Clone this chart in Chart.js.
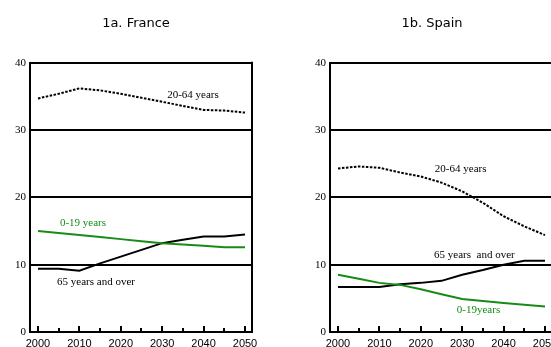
<!DOCTYPE html>
<html>
<head>
<meta charset="utf-8">
<script src="https://cdn.jsdelivr.net/npm/chart.js@4/dist/chart.umd.min.js"></script>
<style>
  html, body { margin: 0; padding: 0; background: #fff; width: 551px; height: 347px; overflow: hidden; }
  canvas { position: absolute; top: 0; }
</style>
</head>
<body>
<canvas id="c1" width="272" height="347" style="left:0px"></canvas>
<canvas id="c2" width="240" height="347" style="left:312px"></canvas>
<script>
// ---- data ----
const years = [2000, 2005, 2010, 2015, 2020, 2025, 2030, 2035, 2040, 2045, 2050];
const xTickLabels = [2000, 2010, 2020, 2030, 2040, 2050];
const yTickLabels = [0, 10, 20, 30, 40];

const franceYoung   = [15.0, 14.7, 14.4, 14.1, 13.8, 13.5, 13.2, 13.0, 12.8, 12.6, 12.6];
const franceWorking = [34.7, 35.4, 36.2, 35.9, 35.4, 34.8, 34.2, 33.6, 33.0, 32.9, 32.6];
const franceOld     = [9.4, 9.4, 9.1, 10.2, 11.2, 12.2, 13.2, 13.7, 14.2, 14.2, 14.5];

const spainYoung    = [8.5, 7.9, 7.3, 7.0, 6.35, 5.6, 4.9, 4.6, 4.3, 4.05, 3.8];
const spainWorking  = [24.3, 24.6, 24.4, 23.7, 23.1, 22.2, 20.9, 19.2, 17.2, 15.7, 14.4];
const spainOld      = [6.7, 6.7, 6.7, 7.1, 7.3, 7.6, 8.5, 9.2, 10.0, 10.6, 10.6];

const GREEN = '#168c16';

const framePlugin = {
  id: 'frame',
  beforeDatasetsDraw(chart) {
    const { ctx, chartArea: a, scales: { x } } = chart;
    ctx.save();
    ctx.strokeStyle = '#000';
    ctx.lineWidth = 2;
    ctx.beginPath();
    ctx.moveTo(a.right, a.top - 1);
    ctx.lineTo(a.right, a.bottom + 1);
    ctx.stroke();
    years.forEach(yr => {
      const px = Math.round(x.getPixelForValue(yr));
      const len = yr % 10 === 0 ? 6 : 4;
      ctx.beginPath();
      ctx.moveTo(px, a.bottom);
      ctx.lineTo(px, a.bottom - len);
      ctx.stroke();
    });
    ctx.restore();
  },
  afterDatasetsDraw(chart, args, opts) {
    const { ctx, scales: { x, y } } = chart;
    ctx.save();
    ctx.font = '11px "Liberation Serif", "Times New Roman", serif';
    ctx.textBaseline = 'middle';
    ctx.textAlign = 'left';
    (opts.items || []).forEach(it => {
      ctx.fillStyle = it.color;
      ctx.fillText(it.text, x.getPixelForValue(it.x), y.getPixelForValue(it.y));
    });
    ctx.restore();
  }
};

function makeChart(id, title, young, working, old, items, yWidth, padRight) {
  const pts = arr => years.map((yr, i) => ({ x: yr, y: arr[i] }));
  return new Chart(document.getElementById(id), {
    type: 'line',
    data: {
      datasets: [
        { label: '0-19 years', data: pts(young), borderColor: GREEN, borderWidth: 2, pointRadius: 0, tension: 0 },
        { label: '65 years and over', data: pts(old), borderColor: '#000', borderWidth: 2, pointRadius: 0, tension: 0 },
        { label: '20-64 years', data: pts(working), borderColor: '#000', borderWidth: 2, borderDash: [2.5, 1.5], pointRadius: 0, tension: 0 }
      ]
    },
    options: {
      responsive: false,
      animation: false,
      layout: { padding: 0 },
      plugins: {
        legend: { display: false },
        tooltip: { enabled: false },
        title: {
          display: true,
          text: title,
          color: '#000',
          font: { family: '"DejaVu Sans", Verdana, sans-serif', size: 13, weight: 'normal', lineHeight: 1.2 },
          padding: { top: 16, bottom: 31.2 }
        },
        frame: { items }
      },
      scales: {
        x: {
          type: 'linear',
          min: 1998.07,
          max: 2051.69,
          afterBuildTicks: s => { s.ticks = xTickLabels.map(v => ({ value: v })); },
          afterFit: s => { s.height = 15; s.paddingLeft = 0; s.paddingRight = padRight; },
          ticks: {
            color: '#000',
            padding: 5,
            maxRotation: 0,
            autoSkip: false,
            font: { family: '"Liberation Sans Narrow", "Arial Narrow", "Liberation Sans", sans-serif', size: 11 },
            callback: v => String(v)
          },
          grid: { display: false, drawTicks: false },
          border: { display: false }
        },
        y: {
          min: 0,
          max: 40,
          afterBuildTicks: s => { s.ticks = yTickLabels.map(v => ({ value: v })); },
          afterFit: s => { s.width = yWidth; s.paddingTop = 0; s.paddingBottom = 0; },
          ticks: {
            color: '#000',
            padding: 4,
            font: { family: '"Liberation Serif", "Times New Roman", serif', size: 11 }
          },
          grid: { color: '#000', lineWidth: 2, drawTicks: false },
          border: { display: true, color: '#000', width: 2 }
        }
      }
    },
    plugins: [framePlugin]
  });
}

makeChart('c1', '1a. France', franceYoung, franceWorking, franceOld, [
  { text: '20-64 years', x: 2031.2, y: 35.2, color: '#000' },
  { text: '0-19 years', x: 2005.3, y: 16.2, color: GREEN },
  { text: '65 years and over', x: 2004.6, y: 7.4, color: '#000' }
], 30, 20);

makeChart('c2', '1b. Spain', spainYoung, spainWorking, spainOld, [
  { text: '20-64 years', x: 2023.4, y: 24.2, color: '#000' },
  { text: '65 years  and over', x: 2023.2, y: 11.45, color: '#000' },
  { text: '0-19years', x: 2028.7, y: 3.27, color: GREEN }
], 18, 0);
</script>
</body>
</html>
